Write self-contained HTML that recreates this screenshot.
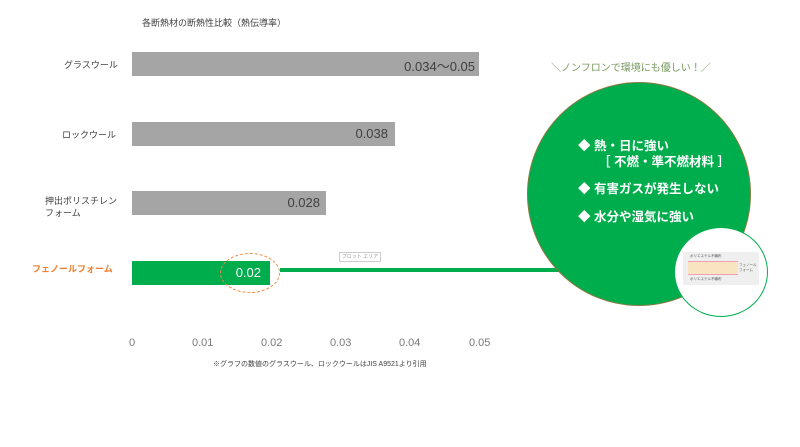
<!DOCTYPE html>
<html><head><meta charset="utf-8"><style>
body{margin:0;width:800px;height:447px;background:#fff;position:relative;overflow:hidden;font-family:"Liberation Sans","Noto Sans CJK JP",sans-serif;}
.a{position:absolute;white-space:nowrap}
.bar{position:absolute;left:132px;height:24px;background:#a5a5a5}
.v{position:absolute;right:4px;top:4px;font-size:13px;color:#404040}
.lab{font-size:9px;color:#404040}
.t{font-size:11px;color:#7a7a7a;top:337px}
.w{color:#fff;font-size:12.5px;font-weight:bold;position:absolute;left:578px}
</style></head><body>
<div class="a" style="left:142px;top:16px;font-size:9px;color:#404040">各断熱材の断熱性比較（熱伝導率）</div>
<div class="a lab" style="left:64px;top:58px">グラスウール</div>
<div class="a lab" style="left:62px;top:128px">ロックウール</div>
<div class="a lab" style="left:45px;top:195px;line-height:12px">押出ポリスチレン<br>フォーム</div>
<div class="a" style="left:32px;top:262px;font-size:9px;color:#f08030;font-weight:bold">フェノールフォーム</div>
<div class="bar" style="top:52px;width:347px"><span class="v">0.034〜0.05</span></div>
<div class="bar" style="top:122px;width:263px"><span class="v" style="right:7px">0.038</span></div>
<div class="bar" style="top:191px;width:194px"><span class="v" style="right:6px">0.028</span></div>
<div class="bar" style="top:261px;width:138px;background:#00ad4c"><span class="v" style="color:#fff;right:9px">0.02</span></div>
<div class="a" style="left:220px;top:253px;width:58px;height:38px;border:1.3px dashed #f08a40;border-radius:50%"></div>
<div class="a" style="left:280px;top:268px;width:280px;height:4px;background:#00ad4c"></div>
<div class="a" style="left:339px;top:252px;width:40px;height:8px;border:1px solid #ccc;font-size:5px;color:#999;line-height:8px;text-align:center">プロット エリア</div>
<div class="a t" style="left:129px">0</div>
<div class="a t" style="left:192px">0.01</div>
<div class="a t" style="left:261px">0.02</div>
<div class="a t" style="left:330px">0.03</div>
<div class="a t" style="left:399px">0.04</div>
<div class="a t" style="left:469px">0.05</div>
<div class="a" style="left:213px;top:359px;font-size:7px;color:#404040">※グラフの数値のグラスウール、ロックウールはJIS A9521より引用</div>
<div class="a" style="left:551px;top:59px;font-size:10px;color:#7a9a60">＼ノンフロンで環境にも優しい！／</div>
<div class="a" style="left:527px;top:82px;width:224px;height:224px;border-radius:50%;background:#00ad4c;border:1px solid #8a7a40;box-sizing:border-box"></div>
<div class="w" style="top:135px">◆ 熱・日に強い</div>
<div class="w" style="top:151px;left:598px">［ 不燃・準不燃材料 ］</div>
<div class="w" style="top:178px">◆ 有害ガスが発生しない</div>
<div class="w" style="top:206px">◆ 水分や湿気に強い</div>
<div class="a" style="left:674px;top:227px;width:94px;height:90px;border-radius:50%;background:#fff;border:1.5px solid #00ad4c;box-sizing:border-box"></div>
<div class="a" style="left:683px;top:252px;width:76px;height:33px;background:#efefef"></div>
<div class="a" style="left:688px;top:261px;width:50px;height:12px;background:#f8e4c0;border-top:1px solid #f0a0b0;border-bottom:1px solid #f0a0b0"></div>
<div class="a" style="left:690px;top:254px;font-size:3.5px;color:#555">ポリエステル不織布</div>
<div class="a" style="left:690px;top:277px;font-size:3.5px;color:#555">ポリエステル不織布</div>
<div class="a" style="left:739px;top:263px;font-size:3.5px;color:#555;line-height:5px">フェノール<br>フォーム</div>
</body></html>
